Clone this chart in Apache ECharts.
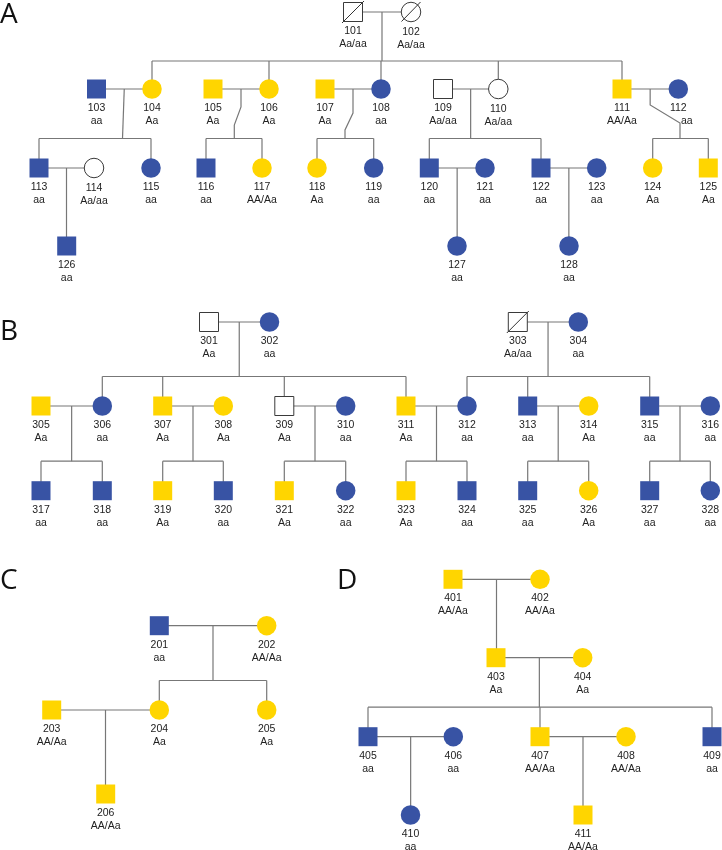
<!DOCTYPE html>
<html><head><meta charset="utf-8">
<script src="https://cdn.jsdelivr.net/npm/echarts@6/dist/echarts.min.js"></script>
<style>html,body{margin:0;padding:0;background:#fff}#c{width:722px;height:850px}</style>
</head><body><div id="c"></div>
<script>
// ---------------- DATA ----------------
const ids = [101,102,103,104,105,106,107,108,109,110,111,112,113,114,115,116,117,118,119,120,121,122,123,124,125,126,127,128,
  301,302,303,304,305,306,307,308,309,310,311,312,313,314,315,316,317,318,319,320,321,322,323,324,325,326,327,328,
  201,202,203,204,205,206,
  401,402,403,404,405,406,407,408,409,410,411];
const sexes = ['M','F','M','F','M','F','M','F','M','F','M','F','M','F','F','M','F','F','F','M','F','M','F','F','M','M','F','F',
  'M','F','M','F','M','F','M','F','M','F','M','F','M','F','M','F','M','M','M','M','M','F','M','M','M','F','M','F',
  'M','F','M','F','F','M',
  'M','F','M','F','M','F','M','F','M','F','M'];
// phenotype: 'b' = blue, 'y' = yellow, 'u' = unknown (white)
const phenotypes = ['u','u','b','y','y','y','y','b','u','u','y','b','b','u','b','b','y','y','b','b','b','b','b','y','y','b','b','b',
  'u','b','u','b','y','b','y','y','u','b','y','b','b','y','b','b','b','b','y','b','y','b','y','b','b','y','b','b',
  'b','y','y','y','y','y',
  'y','y','y','y','b','b','y','y','b','b','y'];
const genotypes = ['Aa/aa','Aa/aa','aa','Aa','Aa','Aa','Aa','aa','Aa/aa','Aa/aa','AA/Aa','aa','aa','Aa/aa','aa','aa','AA/Aa','Aa','aa','aa','aa','aa','aa','Aa','Aa','aa','aa','aa',
  'Aa','aa','Aa/aa','aa','Aa','aa','Aa','Aa','Aa','aa','Aa','aa','aa','Aa','aa','aa','aa','aa','Aa','aa','Aa','aa','Aa','aa','aa','Aa','aa','aa',
  'aa','AA/Aa','AA/Aa','Aa','Aa','AA/Aa',
  'AA/Aa','AA/Aa','Aa','Aa','aa','aa','AA/Aa','AA/Aa','aa','aa','AA/Aa'];
const deceased = [101,102,303];
const couples = [[101,102],[103,104],[105,106],[107,108],[109,110],[111,112],[113,114],[120,121],[122,123],
  [301,302],[303,304],[305,306],[307,308],[309,310],[311,312],[313,314],[315,316],
  [201,202],[203,204],
  [401,402],[403,404],[405,406],[407,408]];
const offspring = [[104,106,108,110,111],[113,115],[116,117],[118,119],[120,122],[124,125],[126],[127],[128],
  [306,307,309,311],[312,313,315],[317,318],[319,320],[321,322],[323,324],[325,326],[327,328],
  [204,205],[206],
  [403],[405,407,409],[410],[411]];
const panelLetters = ['A','B','C','D'];

// ---------------- LAYOUT (positions in axis units) ----------------
const rows = {A1:12,A2:89,A3:168,A4:246,B1:322,B2:406,B3:490.7,C1:625.7,C2:710,C3:794,D1:579.3,D2:657.7,D3:736.7,D4:815};
const layout = {
  101:[353,'A1'],102:[411,'A1'],
  103:[96.5,'A2'],104:[152,'A2'],105:[213,'A2'],106:[269,'A2'],107:[325,'A2'],108:[381,'A2'],109:[443,'A2'],110:[498.3,'A2'],111:[622,'A2'],112:[678.3,'A2'],
  113:[39,'A3'],114:[94,'A3'],115:[151,'A3'],116:[206,'A3'],117:[262,'A3'],118:[317,'A3'],119:[373.7,'A3'],120:[429.3,'A3'],121:[485,'A3'],122:[541,'A3'],123:[596.7,'A3'],124:[652.7,'A3'],125:[708.3,'A3'],
  126:[66.7,'A4'],127:[457,'A4'],128:[569,'A4'],
  301:[209,'B1'],302:[269.5,'B1'],303:[517.8,'B1'],304:[578.3,'B1'],
  305:[41,'B2'],306:[102.3,'B2'],307:[162.7,'B2'],308:[223.3,'B2'],309:[284.3,'B2'],310:[345.7,'B2'],311:[406,'B2'],312:[467,'B2'],313:[527.7,'B2'],314:[588.7,'B2'],315:[649.7,'B2'],316:[710.3,'B2'],
  317:[41,'B3'],318:[102.3,'B3'],319:[162.7,'B3'],320:[223.3,'B3'],321:[284.3,'B3'],322:[345.7,'B3'],323:[406,'B3'],324:[467,'B3'],325:[527.7,'B3'],326:[588.7,'B3'],327:[649.7,'B3'],328:[710.3,'B3'],
  201:[159.3,'C1'],202:[266.7,'C1'],203:[51.7,'C2'],204:[159.3,'C2'],205:[266.7,'C2'],206:[105.7,'C3'],
  401:[453,'D1'],402:[540,'D1'],403:[496,'D2'],404:[582.7,'D2'],405:[368,'D3'],406:[453.3,'D3'],407:[540,'D3'],408:[626,'D3'],409:[712,'D3'],410:[410.5,'D4'],411:[583,'D4']
};
// jogged descent lines: couple key -> [target x, bend start, bend end]
const jogs = {'103-104':[122.5,0,49.5],'105-106':[234.3,18,36],'107-108':[345,24,41],'111-112':[680,16,34]};
const letterPos = {A:[0,15],B:[0,332],C:[0,581],D:[337,581]};

// ---------------- BUILD ----------------
const BLUE = '#3853a4', YELLOW = '#ffd500', LINE = '#777';
const pos = id => [layout[id][0], rows[layout[id][1]]];

const connLines = [];
couples.forEach((c, i) => {
  const a = pos(c[0]), b = pos(c[1]);
  connLines.push({coords: [a, b]});
  const kids = offspring[i];
  const mx = (a[0] + b[0]) / 2, cy = a[1];
  const ky = pos(kids[0])[1];
  if (kids.length === 1) {
    connLines.push({coords: [[mx, cy], [mx, ky]]});
    return;
  }
  const sibY = ky - (c[0] === 101 ? 28 : 29.5);
  const jog = jogs[c[0] + '-' + c[1]];
  if (jog) {
    connLines.push({coords: [[mx, cy], [mx, cy + jog[1]], [jog[0], cy + jog[2]], [jog[0], sibY]]});
  } else {
    connLines.push({coords: [[mx, cy], [mx, sibY]]});
  }
  const xs = kids.map(k => pos(k)[0]);
  connLines.push({coords: [[Math.min(...xs), sibY], [Math.max(...xs), sibY]]});
  kids.forEach(k => { const p = pos(k); connLines.push({coords: [[p[0], sibY], p]}); });
});

const slashLines = deceased.map(id => {
  const p = pos(id), sq = sexes[ids.indexOf(id)] === 'M';
  const d = sq ? 11 : 9.5;
  return {coords: [[p[0] - d, p[1] + d], [p[0] + d, p[1] - d - (sq ? 0 : 0.5)]]};
});

const people = ids.map((id, i) => {
  const ph = phenotypes[i];
  const fill = ph === 'b' ? BLUE : ph === 'y' ? YELLOW : '#fff';
  const item = {
    value: pos(id),
    symbol: sexes[i] === 'M' ? 'rect' : 'circle',
    symbolSize: sexes[i] === 'M' ? 19 : 19.5,
    itemStyle: {color: fill, opacity: 1, borderColor: ph === 'u' ? '#3a3a3a' : fill, borderWidth: ph === 'u' ? 1 : 0},
    label: {formatter: id + '\n' + genotypes[i]}
  };
  if (id === 112) {
    item.label = {formatter: '{n|' + id + '}\n{s|' + genotypes[i] + '}',
      rich: {n: {fontSize: 10.5, lineHeight: 13, color: '#222'}, s: {fontSize: 10.5, lineHeight: 13, color: '#222', padding: [0, 0, 0, 17]}}};
  }
  return item;
});

const chart = echarts.init(document.getElementById('c'), null, {renderer: 'canvas'});
chart.setOption({
  animation: false,
  backgroundColor: '#fff',
  grid: {left: 0, right: 0, top: 0, bottom: 0},
  xAxis: {type: 'value', min: 0, max: 722, show: false},
  yAxis: {type: 'value', min: 0, max: 850, inverse: true, show: false},
  graphic: panelLetters.map(L => ({
    type: 'text', x: letterPos[L][0], y: letterPos[L][1],
    style: {text: L, fontSize: 28, fontFamily: 'Open Sans', fill: '#111', verticalAlign: 'middle', align: 'left'}
  })),
  series: [
    {type: 'lines', coordinateSystem: 'cartesian2d', polyline: true, silent: true, z: 1,
      lineStyle: {color: LINE, width: 1.2, opacity: 1}, data: connLines},
    {type: 'scatter', z: 3, silent: true, data: people, itemStyle: {opacity: 1},
      label: {show: true, position: 'bottom', distance: 3, fontSize: 10.5, lineHeight: 13,
        fontFamily: 'Liberation Sans, Arial, sans-serif', color: '#222'}},
    {type: 'lines', coordinateSystem: 'cartesian2d', polyline: true, silent: true, z: 5,
      lineStyle: {color: '#333', width: 1, opacity: 1}, data: slashLines}
  ]
});
</script></body></html>
